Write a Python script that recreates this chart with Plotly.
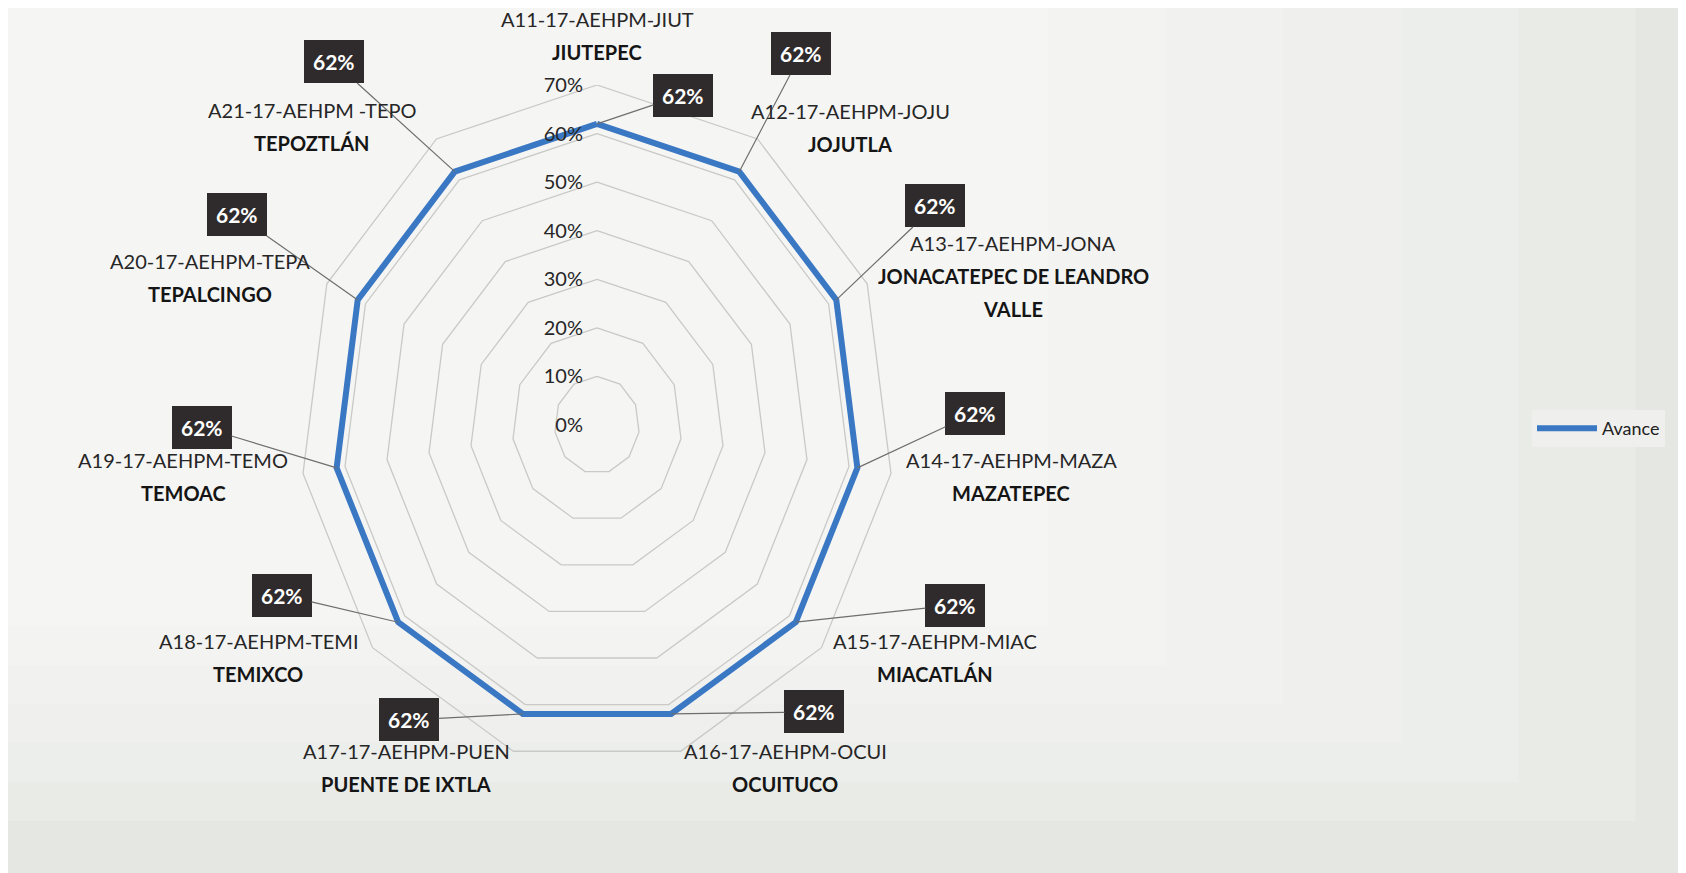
import math
import plotly.graph_objects as go

# ---------------- data ----------------
codes = ["A11-17-AEHPM-JIUT", "A12-17-AEHPM-JOJU", "A13-17-AEHPM-JONA",
         "A14-17-AEHPM-MAZA", "A15-17-AEHPM-MIAC", "A16-17-AEHPM-OCUI",
         "A17-17-AEHPM-PUEN", "A18-17-AEHPM-TEMI", "A19-17-AEHPM-TEMO",
         "A20-17-AEHPM-TEPA", "A21-17-AEHPM -TEPO"]
names = ["JIUTEPEC", "JOJUTLA", "JONACATEPEC DE LEANDRO<br>VALLE", "MAZATEPEC",
         "MIACATLÁN", "OCUITUCO", "PUENTE DE IXTLA", "TEMIXCO", "TEMOAC",
         "TEPALCINGO", "TEPOZTLÁN"]
avance = [0.62, 0.62, 0.62, 0.62, 0.62, 0.62, 0.62, 0.62, 0.62, 0.62, 0.62]
radial_ticks = [0, 0.1, 0.2, 0.3, 0.4, 0.5, 0.6, 0.7]
series_name = "Avance"

# ---------------- layout geometry (screen pixels) ----------------
OFF = 8                       # default page margin of the html body
W, H = 1686 - OFF, 873 - OFF  # figure size
CX, CY = 597, 425             # centre of the radar (screen px)
RX, RY = 297, 340             # half-size of the 70 % ring (scan is squeezed horizontally)
RMAX = 0.7
label_pos = [(597, 19), (850, 111), (1013, 243), (1011, 460), (935, 641),
             (785, 751), (406, 751), (258, 641), (183, 460), (210, 261),
             (312, 110)]
box_pos = [(683, 95), (801, 54), (935, 206), (975, 413), (955, 605),
           (814, 712), (409, 720), (282, 595), (202, 427), (237, 215),
           (334, 62)]
LINE_GAP = 33
FONT = "Lato, 'Open Sans', sans-serif"
GRID = "#c9c9c6"


def px(sx):
    return (sx - OFF) / W


def py(sy):
    return 1 - (sy - OFF) / H


n = len(codes)
angles = [math.radians(90 - i * 360.0 / n) for i in range(n)]

fig = go.Figure()

# radial grid rings (linear grid shape)
gx, gy = [], []
for t in radial_ticks[1:]:
    for k in range(n + 1):
        a = angles[k % n]
        gx.append(t * math.cos(a))
        gy.append(t * math.sin(a))
    gx.append(None)
    gy.append(None)
fig.add_trace(go.Scatter(x=gx, y=gy, mode="lines", hoverinfo="skip",
                         line=dict(color=GRID, width=1.3), showlegend=False))

# data series
sx_ = [avance[i] * math.cos(angles[i]) for i in range(n)]
sy_ = [avance[i] * math.sin(angles[i]) for i in range(n)]
fig.add_trace(go.Scatter(
    x=sx_ + [sx_[0]], y=sy_ + [sy_[0]], mode="lines", name=series_name,
    text=codes + [codes[0]],
    line=dict(color="#3a78c3", width=6), showlegend=True,
))

# background (light scan, greyer towards right/bottom)
shapes = [dict(type="rect", xref="paper", yref="paper", x0=0, x1=1, y0=0, y1=1,
               fillcolor="#e5e7e3", line_width=0, layer="below")]
for k in range(6):
    shapes.append(dict(type="rect", xref="paper", yref="paper",
                       x0=0, x1=0.97 - 0.07 * k, y0=0.06 + 0.045 * k, y1=1,
                       fillcolor="#ffffff", opacity=0.16, line_width=0, layer="below"))

annotations = []
for i in range(n):
    ppx = CX + sx_[i] / RMAX * RX
    ppy = CY - sy_[i] / RMAX * RY
    bx, by = box_pos[i]
    annotations.append(dict(
        x=sx_[i], y=sy_[i], xref="x", yref="y",
        ax=bx - ppx, ay=by - ppy, axref="pixel", ayref="pixel",
        text="<b>" + f"{avance[i]:.0%}" + "</b>", showarrow=True, arrowhead=0,
        arrowwidth=1.2, arrowcolor="#6e6e6e",
        font=dict(family=FONT, size=21, color="#ffffff"),
        bgcolor="#2f2b2c", borderpad=8, bordercolor="#2f2b2c",
    ))
    lx, ly = label_pos[i]
    lines = [codes[i]] + names[i].split("<br>")
    for k, t in enumerate(lines):
        bold = k > 0
        annotations.append(dict(
            x=px(lx), y=py(ly + k * LINE_GAP), xref="paper", yref="paper",
            text=("<b>" + t + "</b>") if bold else t, showarrow=False,
            xanchor="center", yanchor="middle",
            font=dict(family=FONT, size=20, color="#151515" if bold else "#262626"),
        ))

fig.update_layout(
    width=W, height=H,
    margin=dict(l=0, r=0, t=0, b=0, autoexpand=False),
    paper_bgcolor="#e5e7e3",
    plot_bgcolor="rgba(0,0,0,0)",
    font=dict(family=FONT, size=20, color="#222222"),
    xaxis=dict(domain=[px(CX - RX), px(CX + RX)], range=[-RMAX, RMAX],
               visible=False, fixedrange=True, automargin=False),
    yaxis=dict(domain=[py(CY + RY), py(CY - RY)], range=[-RMAX, RMAX],
               tickvals=radial_ticks, tickformat=".0%", anchor="free",
               position=px(CX), showgrid=False, zeroline=False, showline=False,
               ticks="", ticklabelstandoff=14, fixedrange=True, automargin=False,
               tickfont=dict(family=FONT, size=20, color="#262626")),
    legend=dict(x=px(1532), y=py(410), xanchor="left", yanchor="top",
                bgcolor="#efefed", itemwidth=60,
                font=dict(family=FONT, size=18, color="#222222")),
    shapes=shapes,
    annotations=annotations,
)

fig.write_html("out.html")
